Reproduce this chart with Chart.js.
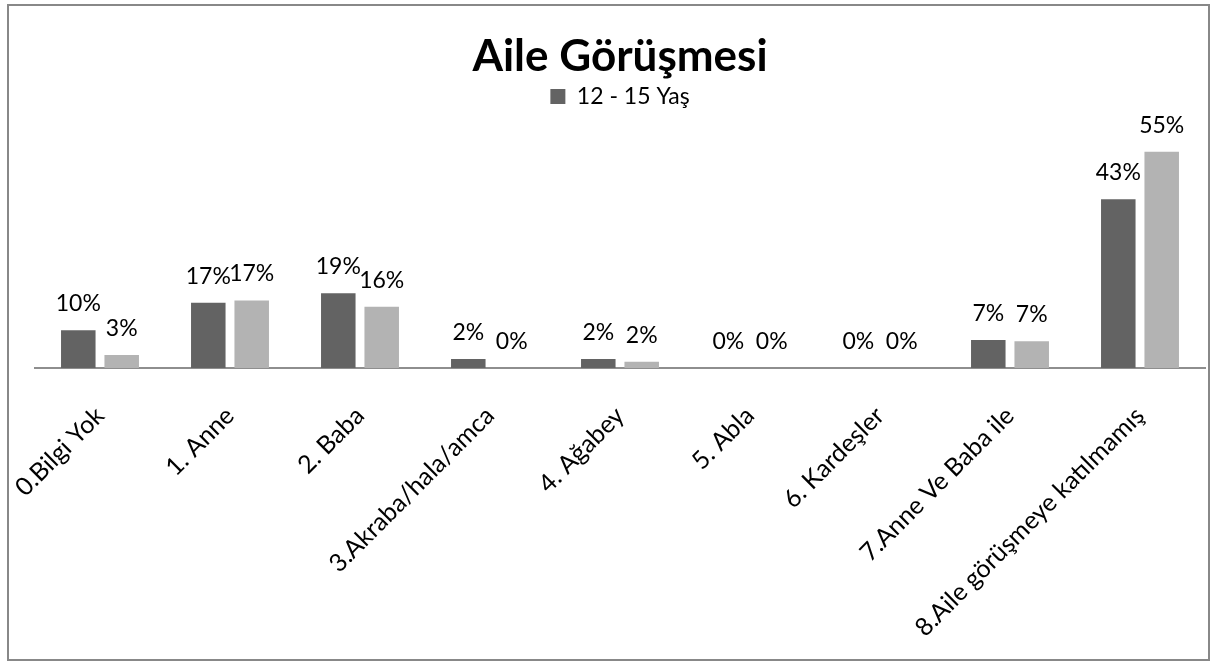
<!DOCTYPE html>
<html>
<head>
<meta charset="utf-8">
<script src="https://cdn.jsdelivr.net/npm/chart.js@4/dist/chart.umd.min.js"></script>
<style>
  html, body { margin: 0; padding: 0; background: #fff; }
  #wrap { position: relative; width: 1216px; height: 665px; }
  #frame { position: absolute; left: 7px; top: 4px; width: 1203px; height: 657px; border: 2px solid #888; box-sizing: border-box; pointer-events: none; }
</style>
</head>
<body>
<div id="wrap">
  <canvas id="chart" width="1216" height="665"></canvas>
  <div id="frame"></div>
</div>
<script>
const categories = ['0.Bilgi Yok', '1. Anne', '2. Baba', '3.Akraba/hala/amca', '4. Ağabey', '5. Abla', '6. Kardeşler', '7.Anne Ve Baba ile', '8.Aile görüşmeye katılmamış'];
const seriesNames = ['12 - 15 Yaş', '16 - 18 Yaş'];
const darkValues = [9.6, 16.6, 19.0, 2.3, 2.3, 0, 0, 7.1, 42.9];
const lightValues = [3.3, 17.2, 15.6, 0, 1.6, 0, 0, 6.8, 55.0];

const FONT = 'Lato, "Open Sans", sans-serif';

// draws the % labels above every bar
const barLabels = {
  id: 'barLabels',
  afterDatasetsDraw(chart) {
    const ctx = chart.ctx;
    ctx.save();
    ctx.font = '23px ' + FONT;
    ctx.fillStyle = '#000';
    ctx.textAlign = 'center';
    ctx.textBaseline = 'alphabetic';
    chart.data.datasets.forEach((ds, i) => {
      const meta = chart.getDatasetMeta(i);
      meta.data.forEach((bar, j) => {
        ctx.fillText(Math.round(ds.data[j]) + '%', bar.x, bar.y - 19);
      });
    });
    ctx.restore();
  }
};

new Chart(document.getElementById('chart'), {
  type: 'bar',
  data: {
    labels: categories,
    datasets: [
      { label: seriesNames[0], data: darkValues, backgroundColor: '#636363', categoryPercentage: 0.668, barPercentage: 0.795 },
      { label: seriesNames[1], data: lightValues, backgroundColor: '#b3b3b3', categoryPercentage: 0.668, barPercentage: 0.795 }
    ]
  },
  options: {
    responsive: false,
    animation: false,
    layout: { padding: { left: 35, right: 11, top: 0, bottom: 0 } },
    scales: {
      x: {
        grid: { display: false, drawTicks: false },
        border: { display: true, color: '#8e8e8e', width: 2 },
        ticks: { autoSkip: false, minRotation: 45, maxRotation: 45, padding: 33, color: '#000', font: { family: FONT, size: 25 } },
        afterFit: scale => {
          scale.height = 297;
          // let the rotated labels hang into the left margin like the original
          scale.paddingLeft = 0;
          scale.paddingRight = 0;
        }
      },
      y: {
        display: false,
        min: 0,
        max: 63.6
      }
    },
    plugins: {
      title: {
        display: true,
        text: 'Aile Görüşmesi',
        color: '#000',
        font: { family: FONT, size: 44, weight: 'bold', lineHeight: 1.0 },
        padding: { top: 35, bottom: 0 }
      },
      legend: {
        display: true,
        position: 'top',
        labels: {
          filter: item => item.datasetIndex === 0,
          boxWidth: 15,
          boxHeight: 15,
          padding: 6,
          color: '#000',
          font: { family: FONT, size: 23 }
        }
      },
      tooltip: { enabled: false }
    }
  },
  plugins: [barLabels]
});
</script>
</body>
</html>
